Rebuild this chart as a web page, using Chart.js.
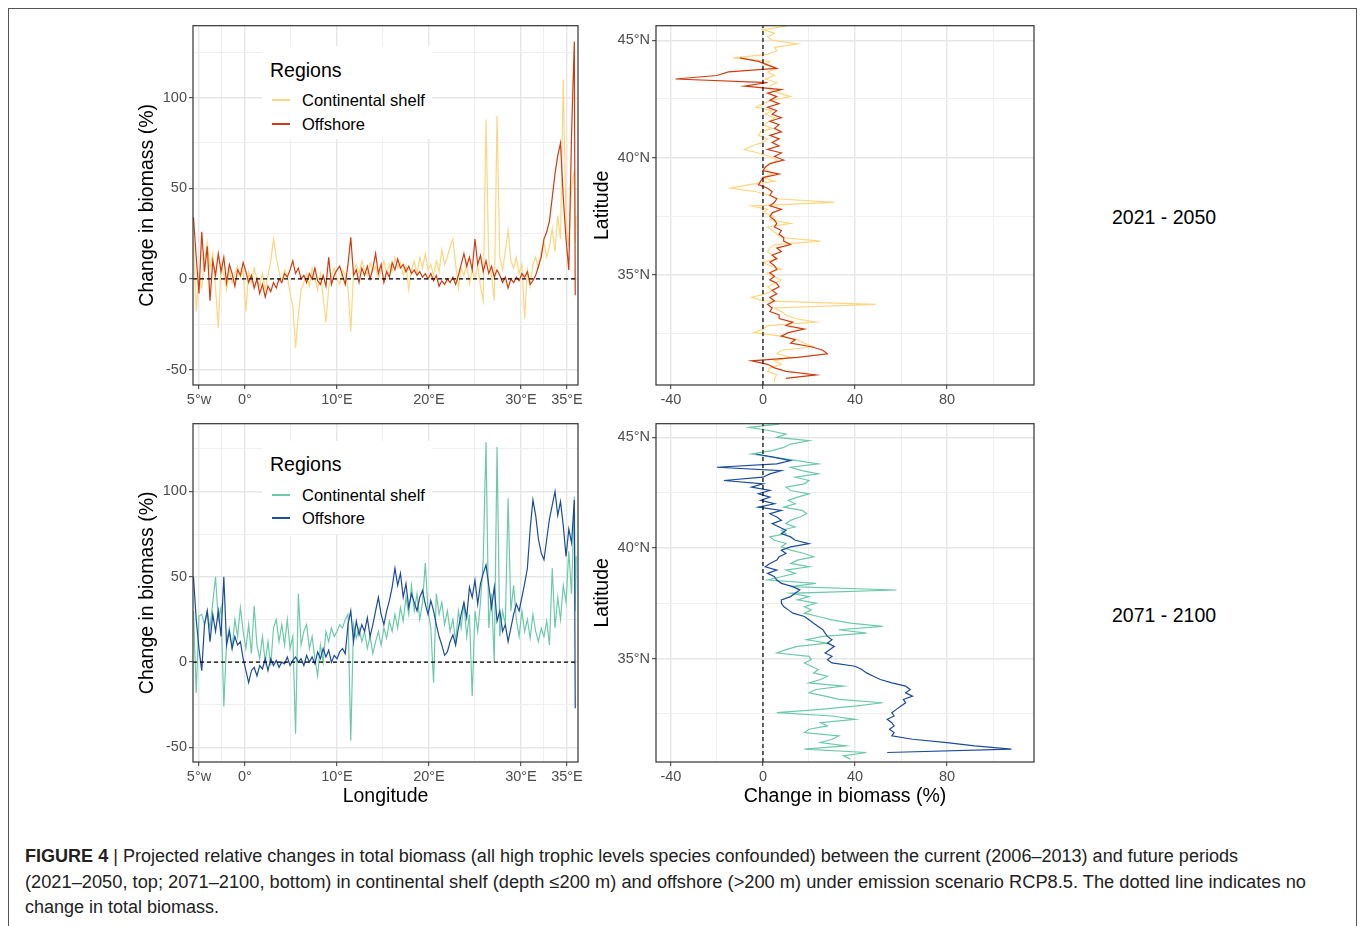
<!DOCTYPE html>
<html><head><meta charset="utf-8">
<script src="https://cdn.jsdelivr.net/npm/chart.js@4.4.1/dist/chart.umd.min.js"></script>
<style>
html,body{margin:0;padding:0;background:#fff;}
body{width:1360px;height:926px;overflow:hidden;position:relative;font-family:"Liberation Sans",Arial,sans-serif;}
canvas{position:absolute;}
.frame{position:absolute;left:8px;top:8px;width:1347px;height:940px;border:1px solid #555;}
.legend{position:absolute;left:262px;width:170px;height:93px;background:#fff;}
.legend .ttl{position:absolute;left:8px;top:13px;font-size:19.5px;line-height:22px;color:#000;white-space:nowrap;}
.legend .it{position:absolute;left:40px;font-size:16.5px;line-height:20px;color:#000;white-space:nowrap;}
.legend .ln{position:absolute;left:10px;width:18px;height:1.5px;}
.strip{position:absolute;left:1112px;font-size:19.5px;line-height:22px;color:#000;white-space:nowrap;}
.cap{position:absolute;left:25px;font-size:18px;line-height:20px;color:#222;white-space:nowrap;transform-origin:0 50%;}
</style></head><body>
<div class="frame"></div>
<canvas id="c1" width="460" height="400" style="left:130px;top:15px"></canvas>
<canvas id="c2" width="459" height="400" style="left:585px;top:15px"></canvas>
<canvas id="c3" width="460" height="402" style="left:130px;top:413px"></canvas>
<canvas id="c4" width="459" height="402" style="left:585px;top:413px"></canvas>

<div class="legend" style="top:46px">
  <div class="ttl">Regions</div>
  <div class="ln" style="top:53px;background:#fed680"></div><div class="it" style="top:44px">Continental shelf</div>
  <div class="ln" style="top:77px;background:#d03c10"></div><div class="it" style="top:68px">Offshore</div>
</div>
<div class="legend" style="top:441px">
  <div class="ttl" style="top:12px">Regions</div>
  <div class="ln" style="top:53px;background:#6dcaa8"></div><div class="it" style="top:44px">Continental shelf</div>
  <div class="ln" style="top:76px;background:#1c4c9c"></div><div class="it" style="top:67px">Offshore</div>
</div>

<div class="strip" style="top:206px">2021 - 2050</div>
<div class="strip" style="top:604px">2071 - 2100</div>

<div class="cap" data-w="1213" style="top:846px"><b>FIGURE 4</b> | Projected relative changes in total biomass (all high trophic levels species confounded) between the current (2006–2013) and future periods</div>
<div class="cap" data-w="1281" style="top:872px">(2021–2050, top; 2071–2100, bottom) in continental shelf (depth ≤200 m) and offshore (&gt;200 m) under emission scenario RCP8.5. The dotted line indicates no</div>
<div class="cap" data-w="194" style="top:897px">change in total biomass.</div>

<script>
// ---------- Longitude panels (left) ----------
const lon = [
-5.6,-5.3,-5.0,-4.7,-4.4,-4.1,-3.8,-3.5,-3.2,-2.9,
-2.6,-2.3,-2.0,-1.7,-1.4,-1.1,-0.8,-0.5,-0.2,0.1,
0.4,0.7,1.0,1.3,1.6,1.9,2.2,2.5,2.8,3.1,
3.4,3.7,4.0,4.3,4.6,4.9,5.2,5.5,5.8,6.1,
6.4,6.7,7.0,7.3,7.6,7.9,8.2,8.5,8.8,9.1,
9.4,9.7,10.0,10.3,10.6,10.9,11.2,11.5,11.8,12.1,
12.4,12.7,13.0,13.3,13.6,13.9,14.2,14.5,14.8,15.1,
15.4,15.7,16.0,16.3,16.6,16.9,17.2,17.5,17.8,18.1,
18.4,18.7,19.0,19.3,19.6,19.9,20.2,20.5,20.8,21.1,
21.4,21.7,22.0,22.3,22.6,22.9,23.2,23.5,23.8,24.1,
24.4,24.7,25.0,25.3,25.6,25.9,26.2,26.5,26.8,27.1,
27.4,27.7,28.0,28.3,28.6,28.9,29.2,29.5,29.8,30.1,
30.4,30.7,31.0,31.3,31.6,31.9,32.2,32.5,32.8,33.1,
33.4,33.7,34.0,34.3,34.6,34.9,35.2,35.5,35.8,35.9,
36.0];

// 2021-2050, change in biomass (%) along longitude
const shelf2050Lon = [
20,-18,2,-5,10,20,6,14,-5,-27,
8,3,-6,5,-2,3,7,1,5,-18,
4,-2,6,0,-4,3,-6,2,10,22,
12,4,-2,5,2,-8,-15,-38,-20,-6,
-2,3,-4,6,0,-6,3,-10,-24,-5,
2,6,0,-3,5,2,-5,-29,4,8,
3,10,5,2,9,4,7,0,5,10,
3,8,4,12,6,9,2,7,-6,5,
10,3,12,6,14,5,8,2,10,4,
16,8,12,18,22,8,-5,6,2,9,
-3,5,0,8,-4,-12,88,10,2,-12,
90,12,5,15,27,10,6,12,3,8,
-22,5,-4,8,12,6,15,20,12,18,
28,15,35,22,110,30,18,50,60,20,
35];
const offshore2050Lon = [
34,12,-8,26,4,18,-12,10,2,14,
4,12,-2,8,3,-4,5,2,9,4,
-2,2,-5,0,-8,-3,-10,-4,-7,-2,
-5,0,-2,3,1,5,10,3,6,0,
2,-2,3,0,6,-1,-3,2,-4,12,
-3,2,5,7,2,-3,8,23,2,5,
-2,6,2,7,0,6,14,3,8,-2,
4,1,9,5,11,6,8,4,7,3,
5,2,4,1,3,0,3,-1,2,-4,
-1,-3,0,-2,1,-3,2,8,14,7,
12,5,22,8,13,4,10,3,7,1,
5,2,-2,1,-5,0,-2,1,-1,3,
1,4,-3,-1,2,7,12,22,26,32,
45,58,68,75,45,22,5,80,131,-9,
null];

// 2071-2100
const shelf2100Lon = [
30,-18,27,28,22,30,20,35,50,25,
32,-26,12,20,8,25,15,32,18,8,
22,5,33,10,2,15,0,12,-2,20,
25,12,22,10,25,8,15,-42,40,10,
18,22,8,15,2,-8,10,0,18,12,
20,15,18,22,20,25,28,-46,22,14,
20,12,18,8,15,5,12,18,10,20,
14,24,18,28,20,32,24,38,28,45,
30,40,25,35,58,30,20,-12,40,28,
35,22,30,18,25,12,30,20,35,15,
28,-20,30,18,35,60,129,20,40,0,
126,15,30,22,96,30,45,25,15,30,
18,25,14,28,18,12,20,15,24,10,
55,20,38,25,45,35,65,40,97,30,
62];
const offshore2100Lon = [
50,25,8,-5,22,30,12,28,18,30,
15,50,10,18,8,15,10,12,2,-5,
-12,-5,-3,-8,-2,-4,2,-5,2,-2,
1,-3,0,-1,3,-2,1,3,0,2,
-2,4,0,3,-1,6,2,8,3,7,
0,4,2,6,8,5,22,30,12,24,
16,22,18,26,15,22,30,38,28,22,
30,36,44,55,45,52,38,46,32,40,
35,30,38,42,34,28,36,30,22,15,
10,4,6,12,16,10,20,28,35,26,
44,38,48,34,46,52,57,45,32,44,
24,30,18,22,12,20,28,34,30,38,
46,55,78,95,86,72,64,60,72,84,
92,100,86,94,80,62,78,70,95,-27,
null];

// ---------- Latitude panels (right) ----------
const lat = [
45.6,45.45,45.3,45.15,45.0,44.85,44.7,44.55,44.4,44.25,
44.1,43.95,43.8,43.65,43.5,43.35,43.2,43.05,42.9,42.75,
42.6,42.45,42.3,42.15,42.0,41.85,41.7,41.55,41.4,41.25,
41.1,40.95,40.8,40.65,40.5,40.35,40.2,40.05,39.9,39.75,
39.6,39.45,39.3,39.15,39.0,38.85,38.7,38.55,38.4,38.25,
38.1,37.95,37.8,37.65,37.5,37.35,37.2,37.05,36.9,36.75,
36.6,36.45,36.3,36.15,36.0,35.85,35.7,35.55,35.4,35.25,
35.1,34.95,34.8,34.65,34.5,34.35,34.2,34.05,33.9,33.75,
33.6,33.45,33.3,33.15,33.0,32.85,32.7,32.55,32.4,32.25,
32.1,31.95,31.8,31.65,31.5,31.35,31.2,31.05,30.9,30.75,
30.6,30.45];

const shelf2050Lat = [
10,0,5,2,4,15,5,6,2,-13,
3,1,6,2,5,1,6,3,3,7,
12,4,0,-3,4,1,5,3,0,4,
-1,-2,2,0,-5,-8,-2,3,6,4,
1,2,4,0,5,-6,-14,-3,3,6,
31,-5,2,0,5,3,12,2,4,6,
8,25,5,3,2,4,6,0,3,8,
2,4,8,5,2,4,1,-5,0,49,
5,8,10,14,23,2,0,-4,8,15,
18,22,8,6,12,5,8,3,2,6,
5,5];
const offshore2050Lat = [
null,null,null,null,null,null,null,null,null,-10,
-2,2,6,-15,-20,-38,2,-8,8,2,
6,3,7,2,6,4,8,3,7,5,
8,3,7,4,7,2,8,5,9,3,
1,0,7,0,-1,-2,2,4,3,6,
5,3,8,4,3,5,6,5,8,7,
9,9,12,6,8,4,6,3,5,6,
3,5,3,6,7,4,6,3,5,2,
4,3,7,7,13,10,18,11,8,14,
12,21,26,28,15,-5,2,5,10,23,
10,null];
const shelf2100Lat = [
7,-6,3,10,6,20,12,9,4,-5,
5,15,24,12,17,24,14,20,18,10,
12,20,15,11,14,9,17,19,16,12,
10,14,8,10,3,5,10,8,12,18,
22,15,12,20,10,14,8,2,23,12,
58,12,20,15,23,18,21,18,24,30,
38,52,33,45,26,19,28,15,10,6,
20,21,18,21,24,22,28,25,20,35,
23,20,27,33,52,40,25,6,30,40,
25,28,20,18,33,30,25,36,18,45,
35,38];
const offshore2100Lat = [
null,null,null,null,null,null,null,null,null,-3,
5,12,6,-20,8,3,0,-17,0,-5,
3,-2,3,-1,5,-2,8,3,6,8,
4,7,10,8,12,14,20,12,8,10,
7,6,3,1,6,2,5,6,8,13,
16,14,12,8,8,9,11,13,18,20,
22,24,26,27,28,30,28,31,29,27,
30,28,30,40,43,45,48,51,56,62,
64,62,65,61,62,60,58,56,57,54,
56,57,55,57,56,65,80,92,108,54,
null,null];

// ---------- Axes ----------
const lonRange = [-5.65, 36.2];
const lonTicks = [-5, 0, 10, 20, 30, 35];
const lonTickLabels = ['5°w', '0°', '10°E', '20°E', '30°E', '35°E'];
const lonMinor = [-2.5, 5, 15, 25, 32.5];
const changeRangeV = [-58.5, 139.7];
const changeTicksV = [-50, 0, 50, 100];
const changeMinorV = [-25, 25, 75, 125];
const changeRangeH = [-46.5, 117.8];
const changeTicksH = [-40, 0, 40, 80];
const changeMinorH = [-20, 20, 60, 100];
const latRange = [30.32, 45.62];
const latTicks = [35, 40, 45];
const latTickLabels = ['35°N', '40°N', '45°N'];
const latMinor = [32.5, 37.5, 42.5];
const noChange = 0;

const COLORS = {shelf2050:'#fed680', off2050:'#d03c10', shelf2100:'#6dcaa8', off2100:'#1c4c9c'};
const FONT = '"Liberation Sans", Arial, sans-serif';
Chart.defaults.font.family = FONT;

function scaleOpts(o) {
  const all = o.major.concat(o.minor).sort((a, b) => a - b);
  const isMaj = v => o.major.indexOf(v) >= 0;
  return {
    type: 'linear', position: o.pos, min: o.min, max: o.max,
    afterBuildTicks: s => { s.ticks = all.map(v => ({value: v})); },
    afterFit: s => { if (o.pos === 'left') s.width = o.size; else s.height = o.size; },
    ticks: {autoSkip: false, maxRotation: 0, minRotation: 0, padding: 2, color: '#4d4d4d',
      font: {size: 14.5},
      callback: v => isMaj(v) ? o.labels[o.major.indexOf(v)] : ''},
    grid: {drawOnChartArea: true, drawTicks: true, tickLength: 4,
      color: c => (c.tick && isMaj(c.tick.value)) ? '#e6e6e6' : '#efefef',
      lineWidth: c => (c.tick && isMaj(c.tick.value)) ? 1.4 : 1,
      tickColor: c => (c.tick && isMaj(c.tick.value)) ? '#333333' : 'rgba(0,0,0,0)',
      tickWidth: 1},
    border: {display: false},
    title: o.title ? {display: true, text: o.title, color: '#000', font: {size: 19.5},
      padding: o.pos === 'left' ? {top: 6.3, bottom: 0} : {top: 0, bottom: 6.3}} : {display: false}
  };
}

const panelBorder = {
  id: 'panelBorder',
  afterDatasetsDraw(chart) {
    const {ctx, chartArea: a} = chart;
    ctx.save();
    ctx.strokeStyle = '#333333';
    ctx.lineWidth = 1.2;
    ctx.strokeRect(a.left, a.top, a.right - a.left, a.bottom - a.top);
    ctx.restore();
  }
};

function line(data, color, order, extra) {
  return Object.assign({data, borderColor: color, borderWidth: 1.2, pointRadius: 0, pointHoverRadius: 0,
    showLine: true, fill: false, tension: 0, order, spanGaps: false}, extra || {});
}
const lonPts = vals => lon.map((x, i) => ({x, y: vals[i]})).filter(p => p.y !== null);
const latPts = vals => lat.map((y, i) => ({x: vals[i], y})).filter(p => p.x !== null);

function make(id, datasets, xs, ys, pad) {
  return new Chart(document.getElementById(id), {
    type: 'scatter',
    data: {datasets},
    options: {responsive: false, animation: false, devicePixelRatio: 1, events: [],
      layout: {padding: pad},
      plugins: {legend: {display: false}, tooltip: {enabled: false}},
      scales: {x: xs, y: ys}},
    plugins: [panelBorder]
  });
}

const dash = {borderDash: [4, 3], borderWidth: 1.2};

// top-left
make('c1', [
  line([{x: lonRange[0], y: noChange}, {x: lonRange[1], y: noChange}], '#000', 0, dash),
  line(lonPts(offshore2050Lon), COLORS.off2050, 1),
  line(lonPts(shelf2050Lon), COLORS.shelf2050, 2)
],
scaleOpts({pos: 'bottom', min: lonRange[0], max: lonRange[1], major: lonTicks, labels: lonTickLabels, minor: lonMinor, size: 30}),
scaleOpts({pos: 'left', min: changeRangeV[0], max: changeRangeV[1], major: changeTicksV, labels: changeTicksV.map(String), minor: changeMinorV, size: 63, title: 'Change in biomass (%)'}),
{top: 10, right: 12, left: 0, bottom: 0});

// top-right
make('c2', [
  line([{x: noChange, y: latRange[0]}, {x: noChange, y: latRange[1]}], '#000', 0, dash),
  line(latPts(offshore2050Lat), COLORS.off2050, 1),
  line(latPts(shelf2050Lat), COLORS.shelf2050, 2)
],
scaleOpts({pos: 'bottom', min: changeRangeH[0], max: changeRangeH[1], major: changeTicksH, labels: changeTicksH.map(String), minor: changeMinorH, size: 30}),
scaleOpts({pos: 'left', min: latRange[0], max: latRange[1], major: latTicks, labels: latTickLabels, minor: latMinor, size: 71, title: 'Latitude'}),
{top: 10, right: 10, left: 0, bottom: 0});

// bottom-left
make('c3', [
  line([{x: lonRange[0], y: noChange}, {x: lonRange[1], y: noChange}], '#000', 0, dash),
  line(lonPts(offshore2100Lon), COLORS.off2100, 1),
  line(lonPts(shelf2100Lon), COLORS.shelf2100, 2)
],
scaleOpts({pos: 'bottom', min: lonRange[0], max: lonRange[1], major: lonTicks, labels: lonTickLabels, minor: lonMinor, size: 53, title: 'Longitude'}),
scaleOpts({pos: 'left', min: changeRangeV[0], max: changeRangeV[1], major: changeTicksV, labels: changeTicksV.map(String), minor: changeMinorV, size: 63, title: 'Change in biomass (%)'}),
{top: 10, right: 12, left: 0, bottom: 0});

// bottom-right
make('c4', [
  line([{x: noChange, y: latRange[0]}, {x: noChange, y: latRange[1]}], '#000', 0, dash),
  line(latPts(offshore2100Lat), COLORS.off2100, 1),
  line(latPts(shelf2100Lat), COLORS.shelf2100, 2)
],
scaleOpts({pos: 'bottom', min: changeRangeH[0], max: changeRangeH[1], major: changeTicksH, labels: changeTicksH.map(String), minor: changeMinorH, size: 53, title: 'Change in biomass (%)'}),
scaleOpts({pos: 'left', min: latRange[0], max: latRange[1], major: latTicks, labels: latTickLabels, minor: latMinor, size: 71, title: 'Latitude'}),
{top: 10, right: 10, left: 0, bottom: 0});

// fit caption lines to the reference line widths
document.querySelectorAll('.cap').forEach(el => {
  const w = el.getBoundingClientRect().width;
  const target = +el.dataset.w;
  if (w > 0) el.style.transform = 'scaleX(' + (target / w).toFixed(4) + ')';
});
</script>
</body></html>
